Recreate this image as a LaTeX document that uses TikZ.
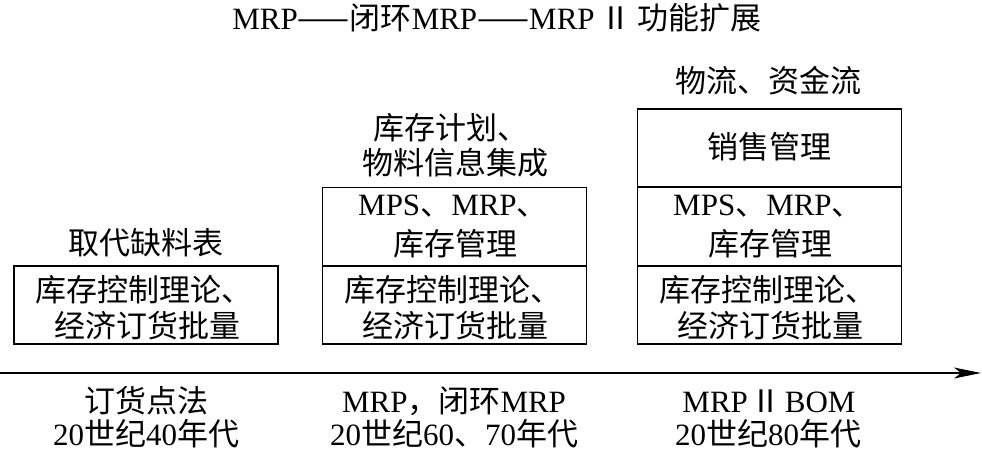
\documentclass[tikz,border=0pt]{standalone}
\usepackage{fontspec}
\setmainfont{Liberation Serif}
\newfontfamily\cjk{Noto Sans CJK SC}
\usetikzlibrary{arrows.meta}
\newcommand\zh[1]{{\cjk #1}}
\begin{document}
\begin{tikzpicture}[x=1pt,y=-1pt,
  every node/.style={font=\fontsize{31}{36}\selectfont, inner sep=0pt},
  cell/.style={draw, line width=1.4pt, minimum width=264pt, minimum height=78pt},
  timeline/.style={line width=1.4pt, -{Stealth[length=27pt,width=11pt,inset=7pt]}}]
\useasboundingbox (0,0) rectangle (982,453);
\fill[white] (0,0) rectangle (982,453);
% title
\node (title) at (497,18) {MRP\zh{——闭环}MRP\zh{——}MRP\kern6pt\zh{Ⅱ}\kern6pt\zh{功能扩展}};
% boxes
\node[cell] (b1low) at (146,305) {};
\node[cell] (b2low) at (454.5,305) {};
\node[cell] (b2mid) at (454.5,226.5) {};
\node[cell] (b3low) at (769.5,305) {};
\node[cell] (b3mid) at (769.5,226.5) {};
\node[cell] (b3top) at (769.5,148) {};
% column 1
\node (t1a) at (146,243) {\zh{取代缺料表}};
\node[anchor=west] (t1b) at (35,290) {\zh{库存控制理论、}};
\node (t1c) at (147,326) {\zh{经济订货批量}};
% column 2
\node[anchor=west] (t2a) at (373,128) {\zh{库存计划、}};
\node (t2b) at (455,163) {\zh{物料信息集成}};
\node[anchor=west] (t2c) at (358,206) {MPS\zh{、}MRP\zh{、}};
\node (t2d) at (455,244) {\zh{库存管理}};
\node[anchor=west] (t2e) at (344,290) {\zh{库存控制理论、}};
\node (t2f) at (455.5,326) {\zh{经济订货批量}};
% column 3
\node (t3a) at (768.5,81) {\zh{物流、资金流}};
\node (t3b) at (769.5,147) {\zh{销售管理}};
\node[anchor=west] (t3c) at (673,206) {MPS\zh{、}MRP\zh{、}};
\node (t3d) at (770,244) {\zh{库存管理}};
\node[anchor=west] (t3e) at (659,290) {\zh{库存控制理论、}};
\node (t3f) at (770.5,326) {\zh{经济订货批量}};
% time axis
\coordinate (ax0) at (0,373);
\coordinate (ax1) at (981,373);
\draw[timeline] (ax0) -- (ax1);
% bottom labels
\node (d1a) at (146,401) {\zh{订货点法}};
\node (d1b) at (146,434) {20\zh{世纪}40\zh{年代}};
\node (d2a) at (454,401) {MRP\zh{，闭环}MRP};
\node (d2b) at (454,434) {20\zh{世纪}60\zh{、}70\zh{年代}};
\node (d3a) at (769,401) {MRP\kern3pt\zh{Ⅱ}\kern3pt BOM};
\node (d3b) at (768,434) {20\zh{世纪}80\zh{年代}};
\end{tikzpicture}
\end{document}
